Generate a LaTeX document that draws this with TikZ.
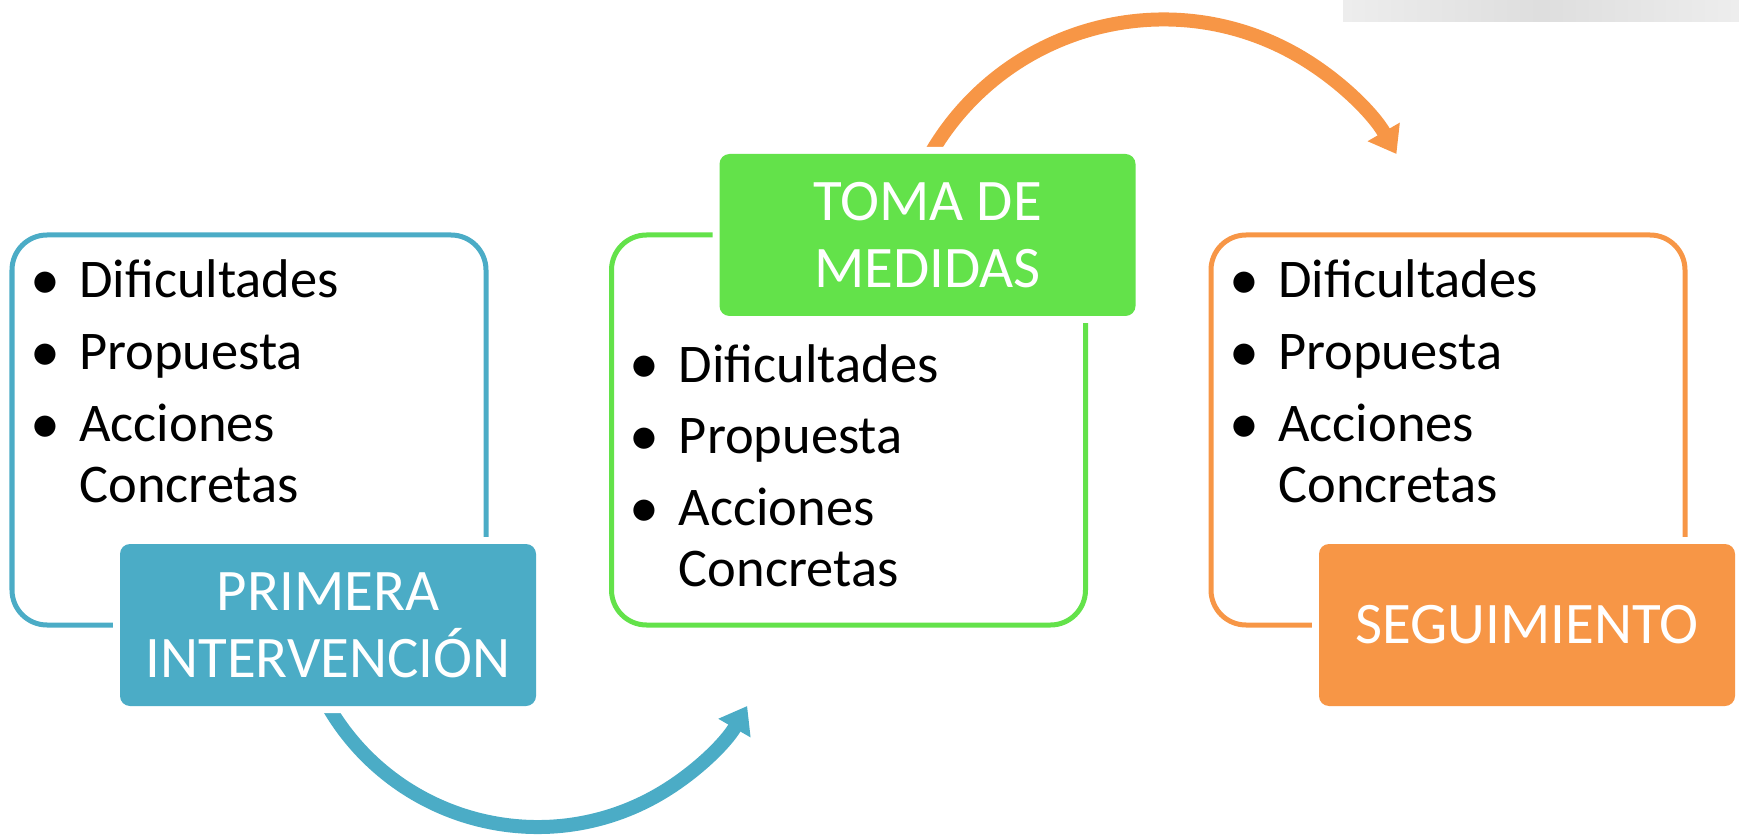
\documentclass[tikz,border=0pt]{standalone}
\usepackage{fontspec}
\setmainfont{Carlito}
\usepackage{tikz}
\usetikzlibrary{positioning, arrows.meta, calc}
\pgfdeclarelayer{background}
\pgfsetlayers{background,main}
\definecolor{azul}{HTML}{4BACC6}
\definecolor{verde}{HTML}{63E24A}
\definecolor{naranja}{HTML}{F79646}
\newcommand{\Punto}{\raisebox{-0.03em}{\scalebox{1.1}{\textbullet}}}
\newcommand{\Lista}{%
  \fontsize{31pt}{34.6pt}\selectfont
  \begin{tabular}[t]{@{}p{0.98cm}@{}l@{}}
    \Punto & Dificultades\\[6.2pt]
    \Punto & Propuesta\\[6.2pt]
    \Punto & Acciones\\
           & Concretas
  \end{tabular}}
\tikzset{
    marco/.style={draw=#1, line width=0.1cm, rounded corners=0.7cm, inner sep=0pt, outer sep=0pt,
      minimum width=9.48cm, minimum height=7.8cm},
    titulo/.style={fill=#1, text=white, rounded corners=0.2cm, inner sep=0pt, outer sep=0pt, align=center,
      minimum width=8.32cm, minimum height=3.24cm, font=\fontsize{33.5pt}{38pt}\selectfont,
      preaction={draw=white, line width=0.28cm}},
    lista/.style={anchor=base west, inner sep=0pt},
    flecha/.style={line width=0.28cm, -{Triangle[width=0.71cm, length=0.51cm]}},
}

\begin{document}
\begin{tikzpicture}
    \useasboundingbox (0,0) rectangle (34.78,16.76);
    \shade[left color=black!7, right color=black!7, middle color=black!13] (26.86,16.32) rectangle (34.78,16.76);

    \node[marco=azul] (b1) at (4.98,8.16) {};
    \node[marco=verde, right=2.51cm of b1] (b2) {};
    \node[marco=naranja, right=2.51cm of b2] (b3) {};

    \node[titulo=azul] (t1) at ([xshift=-3.16cm]b1.south east) {PRIMERA\\INTERVENCIÓN};
    \node[titulo=verde] (t2) at ([xshift=-3.16cm]b2.north east) {TOMA DE\\MEDIDAS};
    \node[titulo=naranja] (t3) at ([xshift=-3.16cm]b3.south east) {SEGUIMIENTO};

    \node[lista] (l1) at ($(b1.north west)+(0.36,-1.26)$) {\Lista};
    \node[lista] (l2) at ($(b2.north west)+(0.36,-2.94)$) {\Lista};
    \node[lista] (l3) at ($(b3.north west)+(0.36,-1.26)$) {\Lista};

    \begin{pgfonlayer}{background}
      \draw[flecha, azul] (t1.south) arc[start angle=210, end angle=330, radius=4.84cm];
      \draw[flecha, naranja] ([xshift=0.06cm]t2.north) arc[start angle=150, end angle=30, radius=5.38cm];
    \end{pgfonlayer}
\end{tikzpicture}
\end{document}
